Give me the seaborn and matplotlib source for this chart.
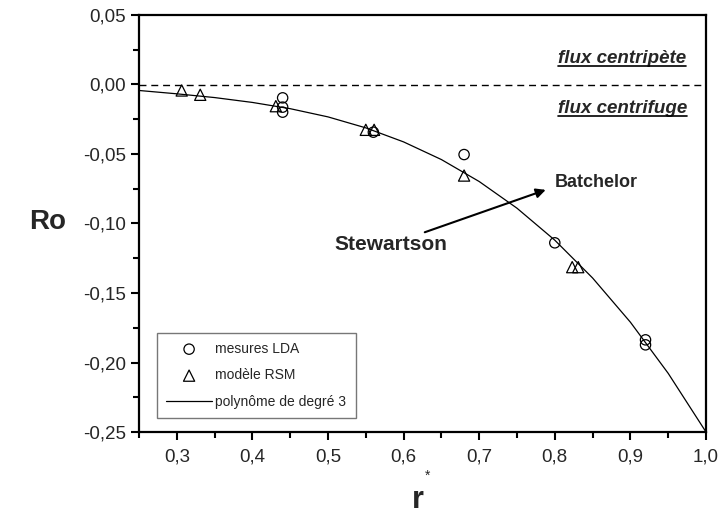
import numpy as np
import pandas as pd
import matplotlib
matplotlib.use('Agg')
import matplotlib.pyplot as plt
import seaborn as sns
from matplotlib.ticker import MultipleLocator, FuncFormatter
from matplotlib.lines import Line2D

# Measured points (LDA)
lda_r = [0.44, 0.44, 0.44, 0.56, 0.68, 0.80, 0.92, 0.92]
lda_ro = [-0.0096, -0.0163, -0.0199, -0.0343, -0.0504, -0.1139, -0.1837, -0.1873]

# RSM model points
rsm_r = [0.3065, 0.331, 0.431, 0.550, 0.561, 0.680, 0.823, 0.831]
rsm_ro = [-0.0043, -0.0074, -0.0156, -0.0326, -0.0326, -0.0655, -0.1314, -0.1314]

# 3rd degree polynomial curve
poly_r = [0.25, 0.30, 0.35, 0.40, 0.45, 0.50, 0.55, 0.60, 0.65, 0.70,
          0.75, 0.80, 0.85, 0.90, 0.95, 1.00]
poly_ro = [-0.0043, -0.0067, -0.0094, -0.0129, -0.0174, -0.0233, -0.0312, -0.0413,
           -0.0540, -0.0698, -0.0890, -0.1120, -0.1392, -0.1710, -0.2078, -0.2500]

lda = pd.DataFrame({'r': lda_r, 'Ro': lda_ro})
rsm = pd.DataFrame({'r': rsm_r, 'Ro': rsm_ro})
poly = pd.DataFrame({'r': poly_r, 'Ro': poly_ro})

sns.set_style('ticks')
plt.rcParams['font.family'] = ['Liberation Sans', 'DejaVu Sans']

fig = plt.figure(figsize=(7.2, 5.14), dpi=100)
ax = fig.add_axes([139 / 720, 82 / 514, 567 / 720, 417 / 514])

sns.scatterplot(data=lda, x='r', y='Ro', marker='o', s=55, facecolor='none',
                edgecolor='black', linewidth=0.9, label='mesures LDA', ax=ax, zorder=3)
sns.scatterplot(data=rsm, x='r', y='Ro', marker='^', s=65, facecolor='none',
                edgecolor='black', linewidth=0.9, label='modèle RSM', ax=ax, zorder=3)
sns.lineplot(data=poly, x='r', y='Ro', color='black', linewidth=0.9,
             label='polynôme de degré 3', ax=ax)

ax.axhline(0, color='black', linewidth=1, linestyle=(0, (5, 3.5)))

ax.set_xlim(0.25, 1.0)
ax.set_ylim(-0.25, 0.05)
ax.xaxis.set_major_locator(MultipleLocator(0.1))
ax.xaxis.set_minor_locator(MultipleLocator(0.05))
ax.yaxis.set_major_locator(MultipleLocator(0.05))
ax.yaxis.set_minor_locator(MultipleLocator(0.025))
ax.xaxis.set_major_formatter(FuncFormatter(lambda v, p: f'{v:.1f}'.replace('.', ',')))
ax.yaxis.set_major_formatter(FuncFormatter(lambda v, p: f'{v:.2f}'.replace('.', ',').replace('-0,00', '0,00')))
ax.tick_params(which='major', length=6, width=1.5, labelsize=13.5, direction='out', color='black')
ax.tick_params(which='minor', length=4, width=1.5, direction='out', color='black')
ax.tick_params(axis='x', pad=6)
for sp in ax.spines.values():
    sp.set_linewidth(1.6)
    sp.set_color('black')
ax.set_xlabel('')
ax.set_ylabel('')

# axis titles
fig.text(48 / 720, 1 - 222 / 514, 'Ro', fontsize=20, fontweight='bold', ha='center', va='center')
fig.text(418 / 720, 1 - 500 / 514, 'r', fontsize=22, fontweight='bold', ha='center', va='center')
fig.text(428 / 720, 1 - 476 / 514, '*', fontsize=10, ha='center', va='center')

# annotations
ax.text(0.509, -0.1151, 'Stewartson', fontsize=15, fontweight='bold', ha='left', va='center')
ax.text(0.800, -0.0705, 'Batchelor', fontsize=13, fontweight='bold', ha='left', va='center')
ax.annotate('', xy=(0.788, -0.0758), xytext=(0.628, -0.1063),
            arrowprops=dict(arrowstyle='-|>', color='black', lw=1.5, mutation_scale=14,
                            shrinkA=0, shrinkB=0))

t1 = ax.text(0.9735, 0.0187, 'flux centripète', fontsize=13.5, fontweight='bold',
             style='italic', ha='right', va='center')
t2 = ax.text(0.9755, -0.0173, 'flux centrifuge', fontsize=13.5, fontweight='bold',
             style='italic', ha='right', va='center')

leg = ax.legend(loc='lower left', bbox_to_anchor=(0.032, 0.034), fontsize=10, frameon=True,
                fancybox=False, edgecolor='#555555', handlelength=3.3, borderpad=0.65,
                labelspacing=0.9, handletextpad=0.25, borderaxespad=0)
leg.get_frame().set_linewidth(1.0)

# underline the flux labels
fig.canvas.draw()
renderer = fig.canvas.get_renderer()
for t in (t1, t2):
    bb = t.get_window_extent(renderer)
    y = bb.y0 + 1
    fig.add_artist(Line2D([bb.x0 / 720, bb.x1 / 720], [y / 514, y / 514],
                          color='black', linewidth=1.2, transform=fig.transFigure))

fig.savefig('out.png', dpi=100)
